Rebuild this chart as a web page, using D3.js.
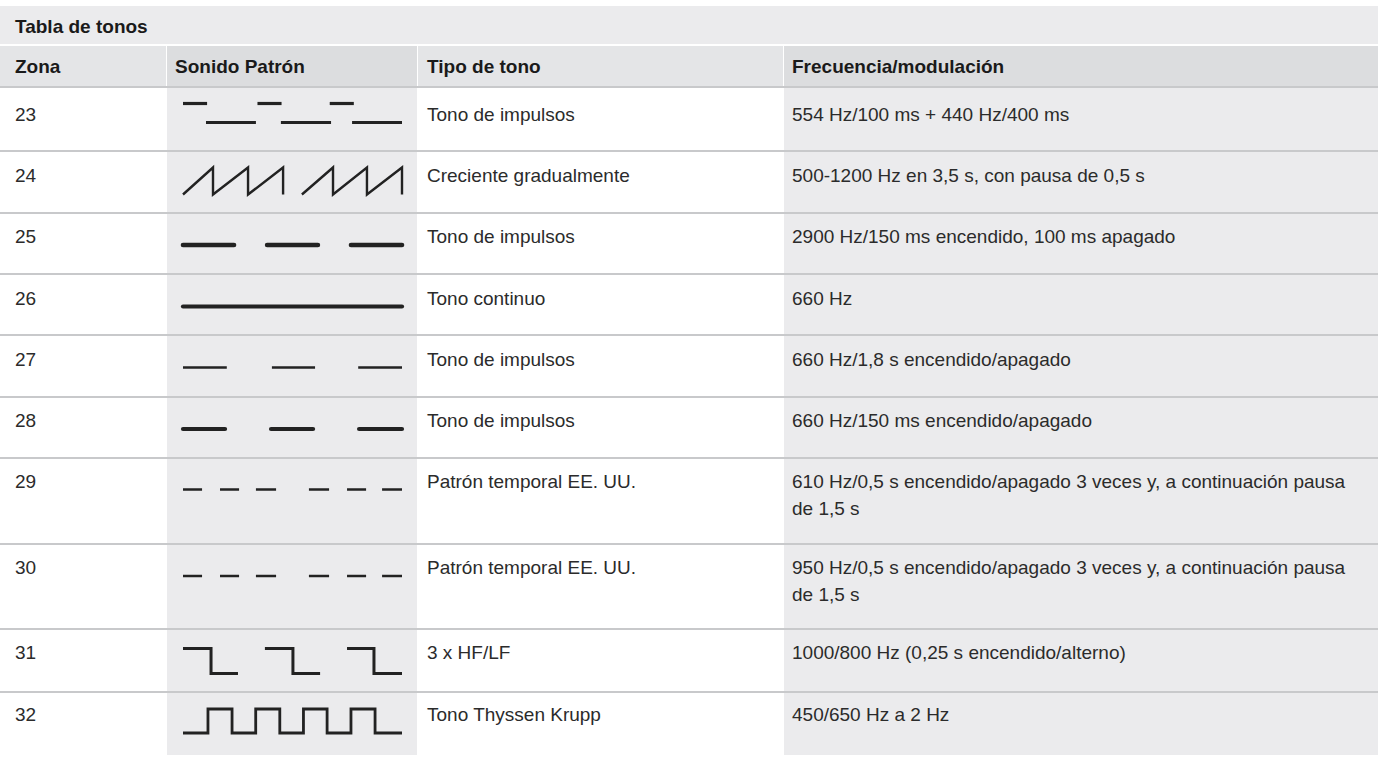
<!DOCTYPE html>
<html>
<head>
<meta charset="utf-8">
<script src="https://cdn.jsdelivr.net/npm/d3@7"></script>
<style>
    body { margin: 0; background: #fff; }
    svg { display: block; }
    text { font-family: "Liberation Sans", Arial, sans-serif; fill: #2b2b2b; font-size: 19px; }
    .bold { font-weight: bold; fill: #1a1a1a; }
</style>
</head>
<body>
<svg id="chart" width="1378" height="780"></svg>
<script>
"use strict"

const title = "Tabla de tonos"
const columns = ["Zona", "Sonido Patrón", "Tipo de tono", "Frecuencia/modulación"]
const zones = ["23", "24", "25", "26", "27", "28", "29", "30", "31", "32"]
const toneTypes = [
    "Tono de impulsos", "Creciente gradualmente", "Tono de impulsos", "Tono continuo",
    "Tono de impulsos", "Tono de impulsos", "Patrón temporal EE. UU.", "Patrón temporal EE. UU.",
    "3 x HF/LF", "Tono Thyssen Krupp"
]
const frequencies = [
    ["554 Hz/100 ms + 440 Hz/400 ms"],
    ["500-1200 Hz en 3,5 s, con pausa de 0,5 s"],
    ["2900 Hz/150 ms encendido, 100 ms apagado"],
    ["660 Hz"],
    ["660 Hz/1,8 s encendido/apagado"],
    ["660 Hz/150 ms encendido/apagado"],
    ["610 Hz/0,5 s encendido/apagado 3 veces y, a continuación pausa", "de 1,5 s"],
    ["950 Hz/0,5 s encendido/apagado 3 veces y, a continuación pausa", "de 1,5 s"],
    ["1000/800 Hz (0,25 s encendido/alterno)"],
    ["450/650 Hz a 2 Hz"]
]

// Sound patterns: polylines of [time 0..100, level] where level 0 = high, 1 = low
const usDashes = [[[0, .5], [8.7, .5]], [[16.9, .5], [25.6, .5]], [[33.3, .5], [42.5, .5]],
    [[57.5, .5], [66.7, .5]], [[74.9, .5], [83.6, .5]], [[90.9, .5], [100, .5]]]
const patterns = [
    [[[0, 0], [11, 0]], [[10.5, 1], [33.3, 1]], [[34, 0], [45, 0]],
        [[44.7, 1], [67.6, 1]], [[67, 0], [78, 0]], [[77.2, 1], [100, 1]]],
    [[[0, 1], [13.7, 0], [13.7, 1], [29.7, 0], [29.7, 1], [45.7, 0], [45.7, 1]],
        [[54.3, 1], [68.5, 0], [68.5, 1], [84, 0], [84, 1], [100, 0], [100, 1]]],
    [[[0, .5], [23.3, .5]], [[38.4, .5], [61.6, .5]], [[76.7, .5], [100, .5]]],
    [[[0, .5], [100, .5]]],
    [[[0, .5], [20, .5]], [[40.6, .5], [60.3, .5]], [[80, .5], [100, .5]]],
    [[[0, .5], [19.2, .5]], [[40.2, .5], [59.4, .5]], [[80.4, .5], [100, .5]]],
    usDashes,
    usDashes,
    [[[0, 0], [12.8, 0], [12.8, 1], [25.1, 1]], [[37.4, 0], [50.2, 0], [50.2, 1], [62.6, 1]],
        [[74.9, 0], [87.2, 0], [87.2, 1], [100, 1]]],
    [[[0, 1], [11.4, 1], [11.4, 0], [22.4, 0], [22.4, 1], [33.2, 1], [33.2, 0], [44.2, 0],
        [44.2, 1], [55, 1], [55, 0], [65.8, 0], [65.8, 1], [76.7, 1], [76.7, 0], [87.7, 0],
        [87.7, 1], [100, 1]]]
]

// layout
const colEdges = [0, 166, 417, 783, 1378]
const rowHeights = [64, 62, 61, 61, 62, 61, 86, 85, 63, 62]
const textDrop = [33, 30, 29, 30, 30, 29, 29, 29, 29, 28]
const lineGap = 27
const patternLook = [
    { width: 3.2, amp: 19, mid: 25, cap: "butt" },
    { width: 2.4, amp: 27, mid: 29, cap: "butt" },
    { width: 4.6, amp: 0, mid: 31, cap: "round" },
    { width: 4.2, amp: 0, mid: 31.5, cap: "round" },
    { width: 2.6, amp: 0, mid: 31.5, cap: "butt" },
    { width: 4.2, amp: 0, mid: 31, cap: "round" },
    { width: 2.5, amp: 0, mid: 30.5, cap: "butt" },
    { width: 2.5, amp: 0, mid: 31, cap: "butt" },
    { width: 3, amp: 25, mid: 31, cap: "butt" },
    { width: 2.8, amp: 24, mid: 28, cap: "butt" }
]
const colors = {
    title: "#EBEBED", headOdd: "#E4E5E7", headEven: "#DCDDDF",
    shade: "#EBEBED", rule: "#C8C9CB", ink: "#222"
}

const svg = d3.select("#chart")
const width = colEdges[colEdges.length - 1]
const pad = [15, 9, 10, 9]

// title band
svg.append("rect").attr("x", 0).attr("y", 6).attr("width", width).attr("height", 38)
    .attr("fill", colors.title)
svg.append("text").attr("class", "bold").attr("x", 15).attr("y", 33).text(title)

// header row
const headTop = 46, headH = 40
columns.forEach((c, i) => {
    const x0 = colEdges[i], x1 = colEdges[i + 1]
    svg.append("rect").attr("x", x0 + (i ? 1 : 0)).attr("y", headTop)
        .attr("width", x1 - x0 - (i ? 1 : 0)).attr("height", headH)
        .attr("fill", i % 2 ? colors.headEven : colors.headOdd)
    svg.append("text").attr("class", "bold").attr("x", x0 + pad[i]).attr("y", headTop + 27)
        .text(c)
})
svg.append("rect").attr("x", 0).attr("y", headTop + headH).attr("width", width).attr("height", 2)
    .attr("fill", colors.rule)

// body rows
const bodyTop = headTop + headH + 2
const rowTops = d3.cumsum([0, ...rowHeights]).map(v => v + bodyTop)
const bodyBottom = rowTops[rowTops.length - 1]

;[1, 3].forEach(i => {
    svg.append("rect").attr("x", colEdges[i] + 1).attr("y", bodyTop)
        .attr("width", colEdges[i + 1] - colEdges[i] - 1).attr("height", bodyBottom - bodyTop)
        .attr("fill", colors.shade)
})

const rows = svg.selectAll(".row")
    .data(zones.map((z, i) => ({ zone: z, type: toneTypes[i], freq: frequencies[i],
        pattern: patterns[i], look: patternLook[i], top: rowTops[i], bottom: rowTops[i + 1],
        base: rowTops[i] + textDrop[i] })))
    .enter().append("g").classed("row", true)

rows.filter((d, i) => i < zones.length - 1).append("rect")
    .attr("x", 0).attr("y", d => d.bottom - 2).attr("width", width).attr("height", 2)
    .attr("fill", colors.rule)

rows.append("text").attr("x", colEdges[0] + pad[0]).attr("y", d => d.base).text(d => d.zone)
rows.append("text").attr("x", colEdges[2] + pad[2]).attr("y", d => d.base).text(d => d.type)
rows.append("text").attr("x", colEdges[3] + pad[3]).attr("y", d => d.base)
    .selectAll("tspan").data(d => d.freq).enter().append("tspan")
    .attr("x", colEdges[3] + pad[3]).attr("dy", (d, j) => j ? lineGap : 0).text(d => d)

// sound pattern glyphs
const xPat = d3.scaleLinear().domain([0, 100]).range([183, 402])
rows.each(function (d) {
    const yPat = d3.scaleLinear().domain([0, 1])
        .range([d.top + d.look.mid - d.look.amp / 2, d.top + d.look.mid + d.look.amp / 2])
    const line = d3.line().x(p => xPat(p[0])).y(p => yPat(p[1]))
    d3.select(this).selectAll("path").data(d.pattern).enter().append("path")
        .attr("d", line)
        .attr("fill", "none")
        .attr("stroke", colors.ink)
        .attr("stroke-width", d.look.width)
        .attr("stroke-linecap", d.look.cap)
        .attr("stroke-linejoin", "miter")
})
</script>
</body>
</html>
